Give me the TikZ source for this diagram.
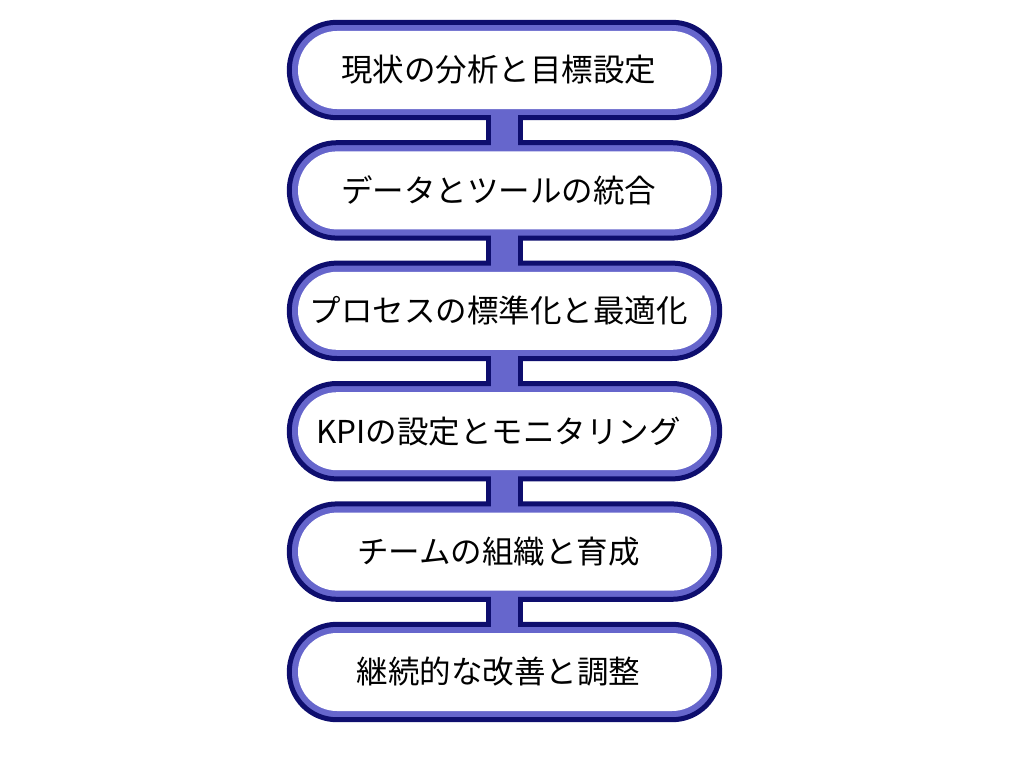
\documentclass[tikz,border=0pt]{standalone}
\usepackage{fontspec}
\newfontfamily\jpfont{Noto Sans CJK JP}
\usetikzlibrary{positioning, calc}
\usetikzlibrary{backgrounds}
\definecolor{framenavy}{RGB}{14,14,110}
\definecolor{bandblue}{RGB}{102,102,204}

\begin{document}
\begin{tikzpicture}[x=1pt, y=1pt,
    stage/.style={fill=white, rounded corners=39pt, minimum width=413pt, minimum height=78pt,
        inner sep=0pt, font=\jpfont\fontsize{31.5}{36}\selectfont},
    frame/.style={draw=framenavy, fill=bandblue, line width=5pt, rounded corners=47.5pt},
    link/.style={fill=bandblue},
    linkside/.style={draw=framenavy, line width=5pt}]
    \useasboundingbox (0,0) rectangle (1024,-768);

    % Etapes
    \foreach \i/\txt in {1/現状の分析と目標設定, 2/データとツールの統合, 3/プロセスの標準化と最適化,
        4/KPIの設定とモニタリング, 5/チームの組織と育成, 6/継続的な改善と調整} {
        \node[stage] (s\i) at (504.5,-70-120.4*\i+120.4) {\txt\hspace*{12pt}};
    }

    \begin{scope}[on background layer]
        % Cadres
        \foreach \i in {1,...,6} {
            \draw[frame] ($(s\i.south west)+(-8.5,-8.5)$) rectangle ($(s\i.north east)+(8.5,8.5)$);
        }
        % Liens
        \foreach \i/\j in {1/2, 2/3, 3/4, 4/5, 5/6} {
            \fill[link] ($(s\i.south)+(-13.5,0)$) rectangle ($(s\j.north)+(13.5,0)$);
            \draw[linkside] ($(s\i.south)+(-16,-8.5)$) -- ($(s\j.north)+(-16,8.5)$);
            \draw[linkside] ($(s\i.south)+(16,-8.5)$) -- ($(s\j.north)+(16,8.5)$);
        }
    \end{scope}
\end{tikzpicture}
\end{document}
